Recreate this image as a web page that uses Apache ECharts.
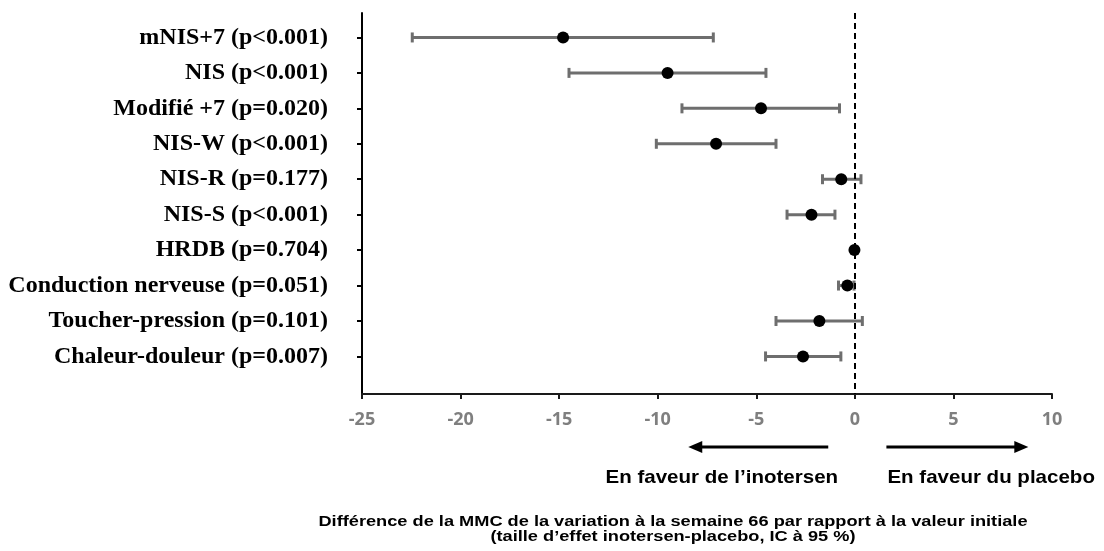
<!DOCTYPE html>
<html>
<head>
<meta charset="utf-8">
<title>Forest plot</title>
<script src="https://cdn.jsdelivr.net/npm/echarts@6/dist/echarts.min.js"></script>
<style>
  html, body { margin: 0; padding: 0; background: #fff; }
  #main { width: 1104px; height: 551px; }
</style>
</head>
<body>
<div id="main"></div>
<script>
// libellés des critères (de haut en bas)
var categories = [
  'mNIS+7 (p<0.001)',
  'NIS (p<0.001)',
  'Modifié +7 (p=0.020)',
  'NIS-W (p<0.001)',
  'NIS-R (p=0.177)',
  'NIS-S (p<0.001)',
  'HRDB (p=0.704)',
  'Conduction nerveuse (p=0.051)',
  'Toucher-pression (p=0.101)',
  'Chaleur-douleur (p=0.007)'
];
// différence estimée et IC 95 %
var estimate = [-14.8, -9.5, -4.76, -7.04, -0.69, -2.2, -0.02, -0.38, -1.8, -2.63];
var ciLow    = [-22.45, -14.5, -8.77, -10.07, -1.64, -3.44, -0.1, -0.83, -4.0, -4.53];
var ciHigh   = [-7.18, -4.51, -0.78, -4.0, 0.31, -1.01, 0.06, -0.04, 0.38, -0.71];
var xTicks = [-25, -20, -15, -10, -5, 0, 5, 10];
var rowIdx = categories.map(function (c, i) { return i; });

var favourLeft = 'En faveur de l\u2019inotersen';
var favourRight = 'En faveur du placebo';
var axisTitle = 'Différence de la MMC de la variation à la semaine 66 par rapport à la valeur initiale\n(taille d\u2019effet inotersen-placebo, IC à 95 %)';

var chart = echarts.init(document.getElementById('main'));

var errData = rowIdx.map(function (i) { return [ciLow[i], ciHigh[i], i]; });
var ptData = rowIdx.map(function (i) { return [estimate[i], i]; });

function renderErr(params, api) {
  var lo = api.coord([api.value(0), api.value(2)]);
  var hi = api.coord([api.value(1), api.value(2)]);
  var h = 5;
  var st = { stroke: '#6e6e6e', lineWidth: 3 };
  return {
    type: 'group',
    children: [
      { type: 'line', shape: { x1: lo[0], y1: lo[1], x2: hi[0], y2: hi[1] }, style: st },
      { type: 'line', shape: { x1: lo[0], y1: lo[1] - h, x2: lo[0], y2: lo[1] + h }, style: st },
      { type: 'line', shape: { x1: hi[0], y1: hi[1] - h, x2: hi[0], y2: hi[1] + h }, style: st }
    ]
  };
}

var option = {
  animation: false,
  backgroundColor: '#fff',
  grid: { left: 362, right: 52, top: 13, bottom: 157 },
  xAxis: {
    type: 'value',
    min: -25, max: 10, interval: 5,
    splitLine: { show: false },
    axisLine: { onZero: false, lineStyle: { color: '#1a1a1a', width: 2 } },
    axisTick: { show: true, length: 5, lineStyle: { color: '#1a1a1a', width: 2 } },
    axisLabel: {
      margin: 17,
      color: '#7f7f7f',
      fontWeight: 'bold',
      fontSize: 18,
      fontFamily: '"Liberation Sans Narrow", "Open Sans", sans-serif'
    }
  },
  yAxis: {
    type: 'value',
    inverse: true,
    min: -0.69, max: 10.06,
    splitLine: { show: false },
    axisLine: { onZero: false, lineStyle: { color: '#000', width: 2 } },
    axisTick: { show: true, customValues: rowIdx, length: 5, lineStyle: { color: '#000', width: 2 } },
    axisLabel: {
      customValues: rowIdx,
      margin: 34,
      color: '#000',
      fontWeight: 'bold',
      fontSize: 24,
      fontFamily: '"Liberation Serif", "Times New Roman", serif',
      formatter: function (v) { return categories[Math.round(v)]; }
    }
  },
  series: [
    {
      type: 'custom',
      renderItem: renderErr,
      data: errData,
      z: 2
    },
    {
      type: 'scatter',
      data: ptData,
      symbol: 'circle',
      symbolSize: 12,
      itemStyle: { color: '#000', opacity: 1 },
      z: 3,
      markLine: {
        silent: true,
        symbol: 'none',
        label: { show: false },
        lineStyle: { color: '#000', width: 2, type: [6, 4] },
        data: [{ xAxis: 0 }]
      }
    }
  ]
};
chart.setOption(option);

// flèches et légendes sous l'axe, placées via l'échelle de l'axe
function px(v) { return chart.convertToPixel({ gridIndex: 0 }, [v, 0])[0]; }
var arrowY = 447;
var textStyleFav = { fill: '#000', font: 'bold 19px "Liberation Sans", Arial, sans-serif' };
function arrow(x1, x2) {
  var dir = x2 > x1 ? 1 : -1;
  return [
    { type: 'line', shape: { x1: x1, y1: arrowY, x2: x2 - dir * 10, y2: arrowY }, style: { stroke: '#000', lineWidth: 3 } },
    { type: 'polygon', shape: { points: [[x2, arrowY], [x2 - dir * 14, arrowY - 6], [x2 - dir * 14, arrowY + 6]] }, style: { fill: '#000' } }
  ];
}
chart.setOption({
  graphic: [].concat(
    arrow(px(-1.35), px(-8.45)),
    arrow(px(1.6), px(8.8)),
    [
      { type: 'text', x: px(-0.85), y: 478, scaleX: 1.08, style: Object.assign({ text: favourLeft, align: 'right', verticalAlign: 'middle' }, textStyleFav) },
      { type: 'text', x: px(1.65), y: 478, scaleX: 1.08, style: Object.assign({ text: favourRight, align: 'left', verticalAlign: 'middle' }, textStyleFav) },
      { type: 'text', x: 673, y: 530, scaleX: 1.3, style: { text: axisTitle, align: 'center', verticalAlign: 'middle', fill: '#000', lineHeight: 15, font: 'bold 14px "Liberation Sans", Arial, sans-serif' } }
    ]
  )
});
</script>
</body>
</html>
